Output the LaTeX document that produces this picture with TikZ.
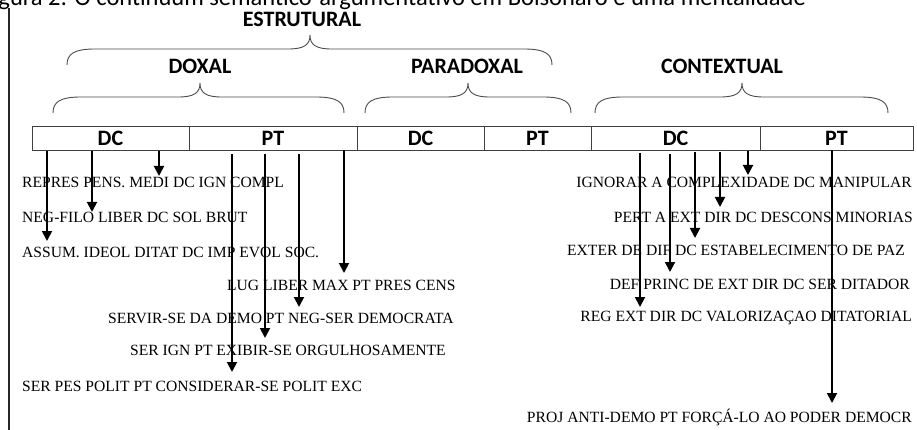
\documentclass[tikz,border=0pt]{standalone}
\usepackage{fontspec}
\setmainfont{Liberation Serif}
\newfontfamily\calib{Carlito}
\usetikzlibrary{arrows.meta}
\newcommand{\curlyb}[4]{% x1, xm, x2, yb
  \draw[br] (#1,#4) .. controls (#1,{#4-11}) and ({#1+7},{#4-16}) .. ({#1+28},{#4-16})
    -- ({#2-22},{#4-16}) .. controls ({#2-6},{#4-16}) and (#2,{#4-20}) .. (#2,{#4-30})
    .. controls (#2,{#4-20}) and ({#2+6},{#4-16}) .. ({#2+22},{#4-16})
    -- ({#3-28},{#4-16}) .. controls ({#3-7},{#4-16}) and (#3,{#4-11}) .. (#3,#4);}
\begin{document}
\begin{tikzpicture}[x=1pt,y=-1pt,
  cell/.style={draw=black!75, line width=0.8pt, minimum height=24pt, inner sep=0pt,
    font=\calib\bfseries\fontsize{22}{24}\selectfont},
  lab/.style={font=\calib\bfseries\fontsize{22}{24}\selectfont, inner sep=0pt},
  txtl/.style={font=\fontsize{15.6}{18}\selectfont, anchor=west, inner sep=0pt},
  txtr/.style={font=\fontsize{15.6}{18}\selectfont, anchor=east, inner sep=0pt},
  arr/.style={line width=1.9pt, -{Triangle[width=10pt,length=10pt]}},
  br/.style={draw=black!70, line width=0.9pt}]
\useasboundingbox (0,0) rectangle (917,430);
\fill[white] (0,0) rectangle (917,430);

% clipped caption at top
\node[anchor=base east, inner sep=0pt, font=\calib\fontsize{24.5}{28}\selectfont] (title) at (806,5.5)
  {Figura 2: O continuum semântico-argumentativo em Bolsonaro e uma mentalidade};

% left rule
\coordinate (vtop) at (9,8);
\coordinate (vbot) at (9,432);
\draw[line width=1.2pt, black!85] (vtop) -- (vbot);

% headings
\node[lab] (estr) at (302,19) {ESTRUTURAL};
\node[lab] (dox) at (200,66) {DOXAL};
\node[lab] (para) at (467,66) {PARADOXAL};
\node[lab] (cont) at (722,66) {CONTEXTUAL};

% braces
\curlyb{67}{310}{552}{65}
\curlyb{53}{200}{344}{113}
\curlyb{365}{468}{571}{113}
\curlyb{595}{742}{888}{113}

% bar cells
\node[cell, minimum width=157pt] (c1) at (110.5,138) {DC};
\node[cell, minimum width=168pt] (c2) at (273,138) {PT};
\node[cell, minimum width=127pt] (c3) at (420.5,138) {DC};
\node[cell, minimum width=107pt] (c4) at (537.5,138) {PT};
\node[cell, minimum width=169pt] (c5) at (675.5,138) {DC};
\node[cell, minimum width=153pt] (c6) at (836.5,138) {PT};

% texts left
\node[txtl] (t1) at (22,182) {REPRES PENS. MEDI DC IGN COMPL};
\node[txtl] (t2) at (22,217) {NEG-FILO LIBER DC SOL BRUT};
\node[txtl] (t3) at (22,252) {ASSUM. IDEOL DITAT DC IMP EVOL SOC.};
\node[txtl] (t4) at (227,285) {LUG LIBER MAX PT PRES CENS};
\node[txtl] (t5) at (108,318) {SERVIR-SE DA DEMO PT NEG-SER DEMOCRATA};
\node[txtl] (t6) at (130,350) {SER IGN PT EXIBIR-SE ORGULHOSAMENTE};
\node[txtl] (t7) at (22,386) {SER PES POLIT PT CONSIDERAR-SE POLIT EXC};

% texts right
\node[txtr] (t8) at (912,182) {IGNORAR A COMPLEXIDADE DC MANIPULAR};
\node[txtr] (t9) at (913,217) {PERT A EXT DIR DC DESCONS MINORIAS};
\node[txtr] (t10) at (905,250) {EXTER DE DIF DC ESTABELECIMENTO DE PAZ};
\node[txtr] (t11) at (910,284) {DEF PRINC DE EXT DIR DC SER DITADOR};
\node[txtr] (t12) at (912,318) {REG EXT DIR DC VALORIZAÇAO DITATORIAL};
\node[txtr] (t13) at (912,417) {PROJ ANTI-DEMO PT FORÇÁ-LO AO PODER DEMOCR};

% arrow coordinates
\coordinate (a1s) at (47,151);  \coordinate (a1e) at (47,241);
\coordinate (a2s) at (92,151);  \coordinate (a2e) at (92,212);
\coordinate (a3s) at (159,151); \coordinate (a3e) at (159,176);
\coordinate (a4s) at (232,154); \coordinate (a4e) at (232,372);
\coordinate (a5s) at (265,154); \coordinate (a5e) at (265,338);
\coordinate (a6s) at (299,154); \coordinate (a6e) at (299,307);
\coordinate (a7s) at (344,150); \coordinate (a7e) at (344,273);
\coordinate (b1s) at (640,153); \coordinate (b1e) at (640,307);
\coordinate (b2s) at (670,154); \coordinate (b2e) at (670,272);
\coordinate (b3s) at (695,152); \coordinate (b3e) at (695,238);
\coordinate (b4s) at (720,152); \coordinate (b4e) at (720,207);
\coordinate (b5s) at (748,151); \coordinate (b5e) at (748,175);
\coordinate (b6s) at (832,150); \coordinate (b6e) at (832,403);

\foreach \a in {a1,a2,a3,a4,a5,a6,a7,b1,b2,b3,b4,b5,b6}
  \draw[arr] (\a s) -- (\a e);
\end{tikzpicture}
\end{document}
